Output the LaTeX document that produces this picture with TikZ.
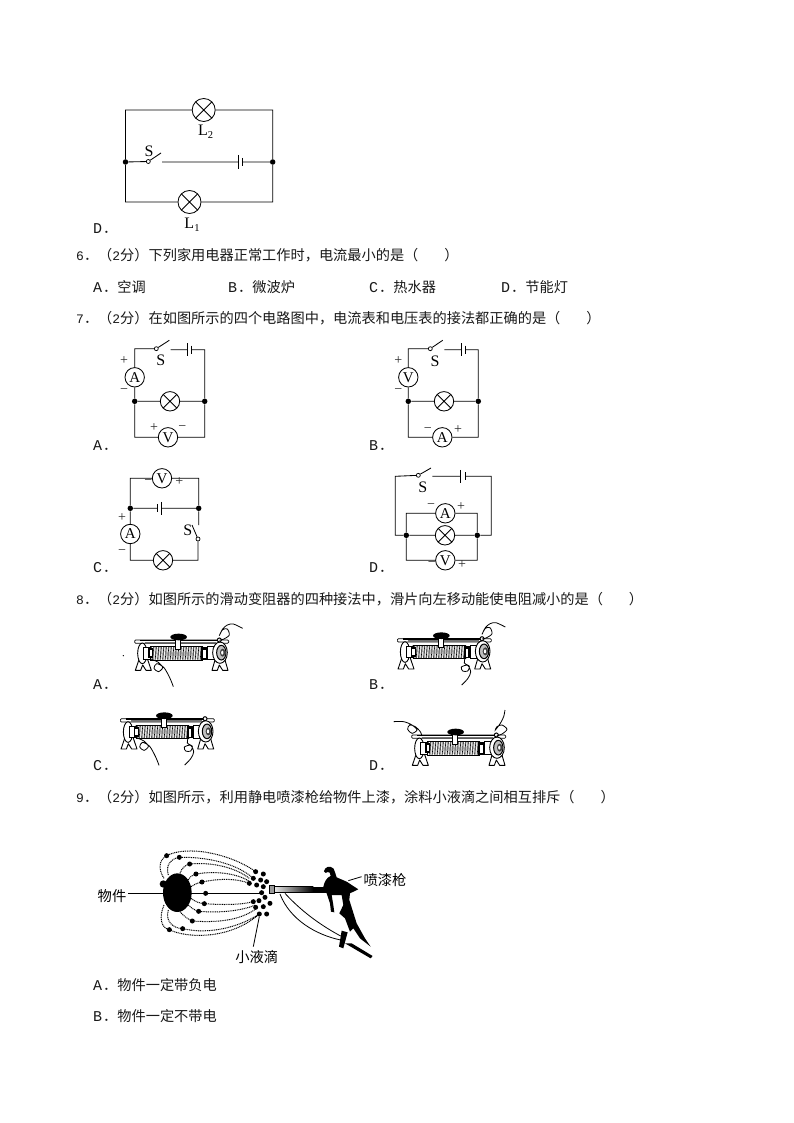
\documentclass[tikz,border=0pt]{standalone}
\usepackage{fontspec}
\setmainfont{Liberation Serif}
\newfontfamily\cjkf{Noto Sans CJK SC}
\newfontfamily\monof{Liberation Mono}
\newcommand{\lat}[1]{\makebox[10pt][l]{\monof\fontsize{15}{14}\selectfont #1}}
\newcommand{\dig}[1]{\makebox[7.8pt][l]{\monof\fontsize{13}{14}\selectfont #1}}
\usetikzlibrary{calc}
\tikzset{
 wire/.style={line width=0.85pt,black},
 lampn/.style={circle,draw,line width=0.85pt,fill=white,minimum size=#1,inner sep=0pt,
   path picture={\draw[line width=0.85pt] (path picture bounding box.north west)--(path picture bounding box.south east)
   (path picture bounding box.north east)--(path picture bounding box.south west);}},
 lampn/.default=19.4pt,
 meter/.style={circle,draw,line width=0.85pt,fill=white,minimum size=19.4pt,inner sep=0pt,font=\fontsize{15}{14}\selectfont},
 jn/.style={circle,fill=black,minimum size=5.5pt,inner sep=0pt},
 swn/.style={circle,draw,line width=0.7pt,fill=white,minimum size=4pt,inner sep=0pt},
 sign/.style={font=\fontsize{14}{12}\selectfont,text=black!85,inner sep=0pt},
 qtext/.style={anchor=west,inner sep=0pt,font=\cjkf\fontsize{14.2}{14}\selectfont,text=black!90},
 cl/.style={font=\fontsize{16}{14}\selectfont,inner sep=0pt},
 zlabel/.style={inner sep=0pt,font=\cjkf\fontsize{14.3}{14}\selectfont},
 dotf/.style={line width=1pt,dash pattern=on 1pt off 0.8pt},
}
\newcommand{\rheo}[3]{%
\begin{scope}[shift={(#1,#2)},x=0.3333pt,y=-0.3333pt]
 % feet
 \draw[line width=0.9pt,fill=white,line join=round] (150,125)--(136,166)--(152,166)--(158,150)--(168,166)--(184,166)--(170,125)--cycle;
 \draw[line width=0.9pt,fill=white,line join=round] (378,125)--(366,166)--(382,166)--(388,150)--(398,166)--(414,166)--(402,125)--cycle;
 % coil
 \fill[white] (180,95) rectangle (340,135);
 \foreach \xx in {180,185,...,340} \draw[line width=0.55pt,black] (\xx,96)--(\xx+2,134);
 \fill[black!40,opacity=.55] (225,110) rectangle (305,122);
 \draw[line width=0.8pt] (180,95)--(340,95);
 \draw[line width=1pt] (180,135)--(340,135);
 % rod
 \draw[line width=0.7pt,fill=white,rounded corners=1pt] (134,75) rectangle (416,85);
 \draw[line width=1.1pt] (150,76)--(385,76);
 \fill[black!55] (165,80) rectangle (378,85);
 % flanges
 \draw[line width=0.9pt,fill=white] (157,115) ellipse (14 and 31);
 \draw[line width=0.9pt,fill=white] (160,98) rectangle (182,132);
 \fill (174,100) rectangle (190,130);
 \fill[white] (179,106) rectangle (186,124);
 \fill (333,97) rectangle (352,134);
 \fill[white] (340,106) rectangle (347,130);
 \draw[line width=0.9pt,fill=white] (352,95) rectangle (372,133);
 \draw[line width=0.9pt,fill=white] (390,113) ellipse (22 and 32);
 \draw[line width=1pt,fill=black!25] (394,113) ellipse (14 and 22);
 \fill[black!75] (398,113) ellipse (8 and 12);
 \fill[white] (397,113) ellipse (3.5 and 6);
 % slider
 \draw[line width=0.9pt,fill=white] (257,74) rectangle (271,102);
 \fill (266,66) ellipse (25 and 10);
 \draw[line width=1pt,fill=white] (388,75) circle (6);
 #3
\end{scope}}
\begin{document}
\begin{tikzpicture}[x=1pt,y=-1pt]
\useasboundingbox (0,0) rectangle (794,1123);
\fill[white] (0,0) rectangle (794,1123);

% ---------- Figure D (top)
\node[lampn=23pt] (L2) at (203.7,110) {};
\node[lampn=23pt] (L1) at (189.5,202) {};
\node[jn] (JL) at (125.5,162) {};
\node[jn] (JR) at (272.7,162) {};
\node[swn] (S0) at (148.3,161.5) {};
\coordinate (S0a) at (161,153);
\coordinate (S0b) at (162,162);
\coordinate (B0l) at (238,162);
\coordinate (B0r) at (242.3,162);
\draw[wire] (L2) -| (JL) (L2) -| (JR) (L1) -| (JL) (L1) -| (JR) (JL) -- (S0) (S0) -- (S0a) (S0b) -- (B0l) (B0r) -- (JR);
\draw[wire] ($(B0l)+(0,-7)$) -- ($(B0l)+(0,7)$) ($(B0r)+(0,-4)$) -- ($(B0r)+(0,4)$);
\node[cl] (tS0) at (149,151) {S};
\node[cl] (tL2) at (205.7,132) {L\raisebox{-3pt}{\fontsize{10.5}{10}\selectfont 2}};
\node[cl] (tL1) at (192,225) {L\raisebox{-3pt}{\fontsize{10.5}{10}\selectfont 1}};

% ---------- Text
\node[qtext] (optD0) at (93,229) {\lat{D}．};
\node[qtext] (q6) at (76,255) {\dig{6}．（\dig{2}分）下列家用电器正常工作时，电流最小的是（\hspace{26pt}）};
\node[qtext] (q6a) at (93,287) {\lat{A}．空调};
\node[qtext] (q6b) at (228,287) {\lat{B}．微波炉};
\node[qtext] (q6c) at (369,287) {\lat{C}．热水器};
\node[qtext] (q6d) at (501,287) {\lat{D}．节能灯};
\node[qtext] (q7) at (76,318) {\dig{7}．（\dig{2}分）在如图所示的四个电路图中，电流表和电压表的接法都正确的是（\hspace{26pt}）};
\node[qtext] (q7a) at (93,445.5) {\lat{A}．};
\node[qtext] (q7b) at (369,445.5) {\lat{B}．};
\node[qtext] (q7c) at (93,568) {\lat{C}．};
\node[qtext] (q7d) at (369,568) {\lat{D}．};
\node[qtext] (q8) at (76,599) {\dig{8}．（\dig{2}分）如图所示的滑动变阻器的四种接法中，滑片向左移动能使电阻减小的是（\hspace{26pt}）};
\node[qtext] (q8a) at (93,685) {\lat{A}．};
\node[qtext] (q8b) at (369,685) {\lat{B}．};
\node[qtext] (q8c) at (93,766) {\lat{C}．};
\node[qtext] (q8d) at (369,766) {\lat{D}．};
\node[qtext] (q9) at (76,797) {\dig{9}．（\dig{2}分）如图所示，利用静电喷漆枪给物件上漆，涂料小液滴之间相互排斥（\hspace{26pt}）};
\node[qtext] (q9a) at (93,985) {\lat{A}．物件一定带负电};
\node[qtext] (q9b) at (93,1016) {\lat{B}．物件一定不带电};

% ---------- Circuit A
\node[meter] (Aa) at (134.7,377.3) {A};
\node[lampn] (Al) at (170,401.3) {};
\node[meter] (Av) at (168,437.3) {V};
\node[jn] (AjL) at (134.7,401.3) {};
\node[jn] (AjR) at (204.7,401.3) {};
\node[swn] (As) at (156.3,348.7) {};
\coordinate (Asa) at (169.3,340.3);
\coordinate (Asb) at (170.7,349.7);
\coordinate (Abl) at (187.3,349.7);
\coordinate (Abr) at (191.7,349.7);
\draw[wire] (As) -| (Aa) (Aa) -- (AjL) (AjL) -- (Al) (Al) -- (AjR) (AjL) |- (Av) (Av) -| (AjR) (As) -- (Asa) (Asb) -- (Abl) (Abr) -| (AjR);
\draw[wire] ($(Abl)+(0,-6.5)$) -- ($(Abl)+(0,6.5)$) ($(Abr)+(0,-4)$) -- ($(Abr)+(0,4)$);
\node[cl] (AtS) at (160.7,360.7) {S};
\node[sign] (Ap1) at (124,361) {+};
\node[sign] (Am1) at (124,391) {−};
\node[sign] (Ap2) at (154,428) {+};
\node[sign] (Am2) at (182.3,428) {−};

% ---------- Circuit B
\node[meter] (Bv) at (408.3,377.3) {V};
\node[lampn] (Bl) at (444,401.3) {};
\node[meter] (Ba) at (442.3,437.3) {A};
\node[jn] (BjL) at (408.3,401.3) {};
\node[jn] (BjR) at (478.3,401.3) {};
\node[swn] (Bs) at (430.3,348.7) {};
\coordinate (Bsa) at (442.7,340.3);
\coordinate (Bsb) at (444.3,349.7);
\coordinate (Bbl) at (461.3,349.7);
\coordinate (Bbr) at (465.7,349.7);
\draw[wire] (Bs) -| (Bv) (Bv) -- (BjL) (BjL) -- (Bl) (Bl) -- (BjR) (BjL) |- (Ba) (Ba) -| (BjR) (Bs) -- (Bsa) (Bsb) -- (Bbl) (Bbr) -| (BjR);
\draw[wire] ($(Bbl)+(0,-6.5)$) -- ($(Bbl)+(0,6.5)$) ($(Bbr)+(0,-4)$) -- ($(Bbr)+(0,4)$);
\node[cl] (BtS) at (435,361) {S};
\node[sign] (Bp1) at (398.3,361) {+};
\node[sign] (Bm1) at (398.3,391) {−};
\node[sign] (Bm2) at (427.7,430) {−};
\node[sign] (Bp2) at (458,430) {+};

% ---------- Circuit C
\node[meter] (Cv) at (162,478.3) {V};
\node[meter] (Ca) at (130.3,534) {A};
\node[lampn] (Cl) at (163,560.3) {};
\node[jn] (CjL) at (130.3,508.3) {};
\node[jn] (CjR) at (198.7,508.3) {};
\node[swn] (Cs) at (198,539) {};
\coordinate (Csa) at (192,525);
\coordinate (Csb) at (198.7,525);
\coordinate (Cbl) at (157.7,508.3);
\coordinate (Cbr) at (161.7,508.3);
\draw[wire] (Cv) -| (CjL) (Cv) -| (CjR) (CjL) -- (Cbl) (Cbr) -- (CjR) (CjL) -- (Ca) (Ca) |- (Cl) (Cl) -| (Cs) (Cs) -- (Csa) (CjR) -- (Csb);
\draw[wire] ($(Cbr)+(0,-6.5)$) -- ($(Cbr)+(0,6.5)$) ($(Cbl)+(0,-4)$) -- ($(Cbl)+(0,4)$);
\node[cl] (CtS) at (187.7,530.7) {S};
\node[sign] (Cm1) at (148.3,482) {−};
\node[sign] (Cp1) at (179.3,482) {+};
\node[sign] (Cp2) at (122,518) {+};
\node[sign] (Cm2) at (122,552) {−};

% ---------- Circuit D
\node[meter] (Da) at (445.3,513.3) {A};
\node[lampn] (Dl) at (445,535.3) {};
\node[meter] (Dv) at (445.3,560.3) {V};
\node[jn] (DjL) at (406.3,535.3) {};
\node[jn] (DjR) at (477.3,535.3) {};
\node[swn] (Ds) at (418.3,475.3) {};
\coordinate (Dsa) at (431,468);
\coordinate (Dsb) at (432.3,476.3);
\coordinate (Dbl) at (460.3,476.3);
\coordinate (Dbr) at (465,476.3);
\coordinate (Dtl) at (395.3,476.3);
\coordinate (Dtr) at (491.3,476.3);
\draw[wire] (Ds) -- (Dtl) -- (Dtl |- DjL) -- (DjL) (Ds) -- (Dsa) (Dsb) -- (Dbl) (Dbr) -- (Dtr) -- (Dtr |- DjR) -- (DjR) (DjL) -- (Dl) (Dl) -- (DjR) (DjL) |- (Da) (Da) -| (DjR) (DjL) |- (Dv) (Dv) -| (DjR);
\draw[wire] ($(Dbl)+(0,-6.5)$) -- ($(Dbl)+(0,6.5)$) ($(Dbr)+(0,-4)$) -- ($(Dbr)+(0,4)$);
\node[cl] (DtS) at (422.7,487.7) {S};
\node[sign] (Dm1) at (431,506.3) {−};
\node[sign] (Dp1) at (461,506.3) {+};
\node[sign] (Dm2) at (431.7,564.3) {−};
\node[sign] (Dp2) at (462,564.3) {+};

% ---------- Rheostats
\def\wR{\draw[line width=0.8pt] plot[smooth] coordinates {(388,76) (402,72) (418,60) (412,42) (398,44) (388,62) (398,42) (412,30) (430,27) (458,40)};}
\def\wAL{\draw[line width=0.8pt] plot[smooth] coordinates {(182,132) (205,142) (218,158) (205,170) (192,160) (200,146) (222,158) (240,190) (250,215)};}
\def\wBL{\draw[line width=0.8pt] plot[smooth] coordinates {(337,134) (335,148) (350,158) (345,172) (330,172) (326,160) (345,155) (354,175) (345,195) (327,214)};}
\rheo{90}{615}{\wR\wAL}
\rheo{352.7}{613.7}{\wR\wBL}
\rheo{75.7}{693.7}{\wAL\wBL}
\rheo{367}{710}{\draw[line width=0.8pt] plot[smooth] coordinates {(165,78) (160,65) (145,50) (128,45) (122,58) (135,70) (150,60) (135,45) (110,35) (80,35)};
 \draw[line width=0.8pt] plot[smooth] coordinates {(389,78) (405,72) (420,58) (405,45) (390,50) (385,60) (400,40) (410,20) (414,0)};}
\fill (123.3,655.7) circle (0.7);

% ---------- Spray gun
\begin{scope}[shift={(90,840)},x=0.3333pt,y=-0.3333pt]
 \coordinate (objL) at (115,160);
 \coordinate (objR) at (218,160);
 \draw[line width=0.9pt] (objL)--(objR) (300,160)--(510,160);
 \fill (262,158) ellipse (43 and 58);
 \fill (220,132) circle (11);
 \begin{scope}[dotf]
 \draw (222,115) .. controls (205,90) and (205,60) .. (230,47) .. controls (290,15) and (420,40) .. (497,95);
 \draw (235,105) .. controls (225,75) and (245,55) .. (268,52) .. controls (350,50) and (440,70) .. (490,115);
 \draw (270,100) .. controls (275,85) and (285,75) .. (299,72) .. controls (370,65) and (440,85) .. (478,115);
 \draw (295,120) .. controls (300,110) and (308,104) .. (318,102) .. controls (390,90) and (450,105) .. (480,125);
 \draw (303,140) .. controls (315,132) and (325,128) .. (336,126) .. controls (390,115) and (440,115) .. (478,130);
 \draw (303,175) .. controls (315,185) and (330,190) .. (343,191) .. controls (400,195) and (450,195) .. (490,185);
 \draw (295,195) .. controls (305,205) and (315,211) .. (326,214) .. controls (400,220) and (460,210) .. (497,195);
 \draw (270,215) .. controls (280,228) and (295,238) .. (307,243) .. controls (400,250) and (460,235) .. (500,205);
 \draw (235,210) .. controls (225,245) and (250,265) .. (278,266) .. controls (360,285) and (450,260) .. (508,222);
 \draw (222,195) .. controls (205,235) and (215,265) .. (238,269) .. controls (290,295) and (420,300) .. (508,222);
 \end{scope}
 \foreach \px/\py in {230/47,268/52,299/72,318/102,336/126,347/160,343/191,326/214,307/243,278/266,238/269,
   497/95,520/102,490/115,512/120,530/125,478/130,500/135,520/140,515/158,490/185,507/182,525/172,540/190,520/200,497/202,530/222,508/222}
   \fill (\px,\py) circle (7.5);
 \draw[line width=0.8pt] (508,230)--(490,320);
 % barrel
 \shade[left color=black!10,right color=black] (555,140) rectangle (670,158);
 \fill (668,140) rectangle (710,158);
 \draw[line width=0.7pt] (555,140)--(670,140) (555,158)--(670,158);
 \draw[line width=0.9pt,fill=black!40] (537,135) rectangle (552,160);
 % hoses
 \draw[line width=0.8pt] (570,162) .. controls (600,240) and (680,285) .. (752,300);
 \draw[line width=0.8pt] (585,160) .. controls (640,220) and (700,260) .. (752,288);
 % body
 \fill (700,140) .. controls (704,122) and (712,112) .. (722,108) .. controls (722,100) and (718,94) .. (713,96) .. controls (710,100) and (704,100) .. (702,94) .. controls (703,82) and (720,74) .. (731,86) .. controls (737,94) and (735,104) .. (740,112) -- (770,125) -- (805,148) -- (780,160) -- (778,180) -- (800,250) -- (825,295) -- (842,320) -- (810,295) -- (790,265) -- (780,275) -- (765,235) -- (748,220) -- (760,195) -- (755,165) -- (725,165) -- (730,195) -- (733,217) -- (723,215) -- (720,190) -- (710,160) -- cycle;
 % hammer and handle
 \fill (755,272)--(773,277)--(760,325)--(747,320)--cycle;
 \fill (765,310)--(785,310)--(848,348)--(842,355)--cycle;
 \draw[line width=0.8pt] (775,122)--(815,110);
\end{scope}
\node[zlabel] (wj) at (112,896) {物件};
\node[zlabel] (pqq) at (385,880) {喷漆枪};
\node[zlabel] (xyd) at (256.7,957) {小液滴};
\end{tikzpicture}
\end{document}
